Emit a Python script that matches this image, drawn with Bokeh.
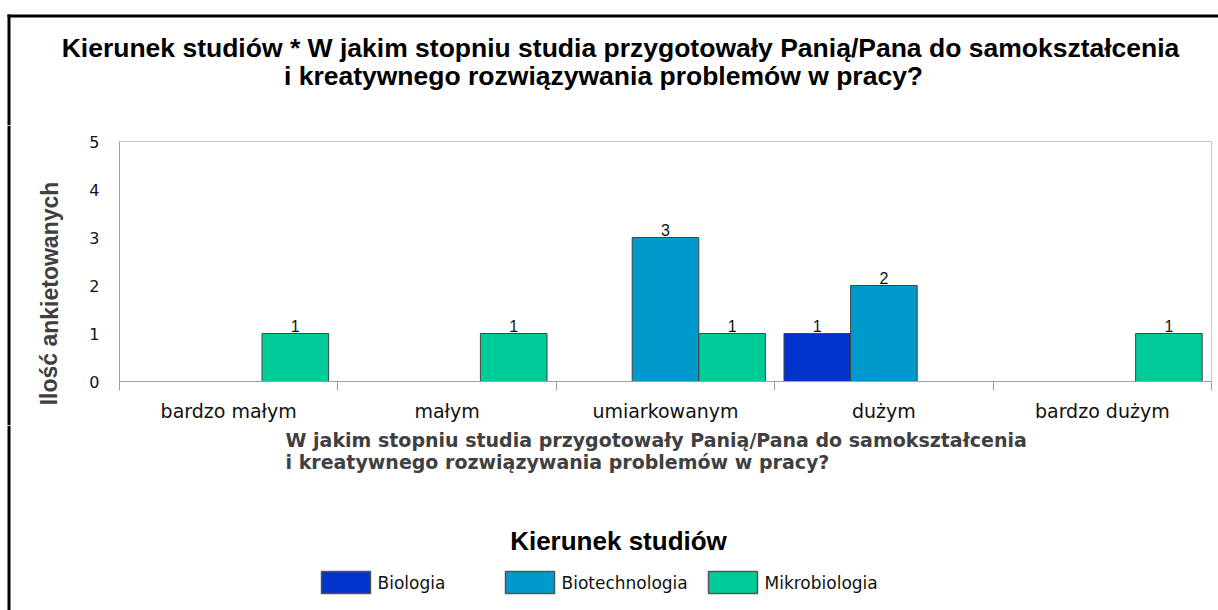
from bokeh.plotting import figure
from bokeh.layouts import column, row
from bokeh.models import ColumnDataSource, Range1d, LinearAxis, FixedTicker
from bokeh.core.properties import value
from bokeh.embed import file_html
from bokeh.resources import INLINE

# ---- data ----
categories = ["bardzo małym", "małym", "umiarkowanym", "dużym", "bardzo dużym"]
series_names = ["Biologia", "Biotechnologia", "Mikrobiologia"]
biologia = [0, 0, 0, 1, 0]
biotechnologia = [0, 0, 3, 2, 0]
mikrobiologia = [1, 1, 1, 0, 1]
y_ticks = [0, 1, 2, 3, 4, 5]

title_lines = ["Kierunek studiów * W jakim stopniu studia przygotowały Panią/Pana do samokształcenia",
               "i kreatywnego rozwiązywania problemów w pracy?"]
x_title_lines = ["W jakim stopniu studia przygotowały Panią/Pana do samokształcenia",
                 "i kreatywnego rozwiązywania problemów w pracy?"]
y_title = "Ilość ankietowanych"
legend_title = "Kierunek studiów"

colors = ["#0033CC", "#0099CC", "#00CC99"]
series_values = [biologia, biotechnologia, mikrobiologia]

# ---- page geometry (px) ----
PW, PH = 1218, 610
TOP_END = 125              # end of title strip
MAIN_END = 425             # end of main chart
LEFT_END = 86              # end of y-title strip
FL, FR, FT, FB = 118, 1211, 141, 381   # plot frame on page
BL0, BL1 = 7, 10           # black border, left edge
BT0, BT1 = 14, 17          # black border, top edge


def no_align(f):
    try:
        f.frame_align = False
    except Exception:
        pass


def canvas_fig(x0, x1, y0, y1):
    """Figure whose frame fills its canvas; data coords == page px (y negated)."""
    f = figure(width=x1 - x0, height=y1 - y0, x_range=Range1d(x0, x1),
               y_range=Range1d(-y1, -y0), x_axis_type=None, y_axis_type=None,
               output_backend="svg", toolbar_location=None, title=None, min_border=0)
    f.outline_line_color = None
    f.background_fill_color = "white"
    f.border_fill_color = "white"
    no_align(f)
    # black chart border (left edge, and top edge where present)
    f.quad(left=[BL0], right=[BL1], top=[-max(y0, BT0)], bottom=[-y1],
           fill_color="black", line_color=None)
    if y0 < BT1:
        f.quad(left=[BL0], right=[x1], top=[-BT0], bottom=[-BT1],
               fill_color="black", line_color=None)
    return f


# ---- title strip ----
top = canvas_fig(0, PW, 0, TOP_END)
top.text(x=[620, 603], y=[-47, -75], text=title_lines, text_align="center",
         text_baseline="middle", text_font=value("Liberation Sans"),
         text_font_style="bold", text_font_size="26.5px", text_color="black")

# ---- y title strip ----
left = canvas_fig(0, LEFT_END, TOP_END, MAIN_END)
left.text(x=[49], y=[-293], text=[y_title], angle=1.5707963, text_align="center",
          text_baseline="middle", text_font=value("Liberation Sans"),
          text_font_style="bold", text_font_size="23px", text_color="#404040")

# ---- main chart ----
ncat = len(categories)
mw, mh = PW - LEFT_END, MAIN_END - TOP_END
p = figure(width=mw, height=mh, x_range=Range1d(0, ncat), y_range=Range1d(0, 5),
           x_axis_type=None, y_axis_type=None, output_backend="svg",
           toolbar_location=None, title=None,
           min_border_left=FL - LEFT_END, min_border_right=PW - FR,
           min_border_top=FT - TOP_END, min_border_bottom=MAIN_END - FB)
no_align(p)
p.background_fill_color = "white"
p.border_fill_color = "white"
p.outline_line_color = "#c8c8c8"
p.outline_line_width = 1

xaxis = LinearAxis(ticker=FixedTicker(ticks=[i + 0.5 for i in range(ncat)],
                                      minor_ticks=list(range(ncat + 1))),
                   major_label_overrides={i + 0.5: c for i, c in enumerate(categories)})
xaxis.axis_line_color = "#a0a0a0"
xaxis.major_tick_line_color = None
xaxis.major_tick_out = 0
xaxis.major_tick_in = 0
xaxis.minor_tick_line_color = "#a0a0a0"
xaxis.minor_tick_out = 9
xaxis.minor_tick_in = 0
xaxis.major_label_text_font = "DejaVu Sans"
xaxis.major_label_text_font_size = "19px"
xaxis.major_label_text_color = "#111111"
xaxis.major_label_standoff = 9
p.add_layout(xaxis, "below")

yaxis = LinearAxis(ticker=FixedTicker(ticks=y_ticks))
yaxis.axis_line_color = "#a0a0a0"
yaxis.major_tick_line_color = None
yaxis.major_tick_out = 0
yaxis.major_tick_in = 0
yaxis.minor_tick_line_color = None
yaxis.major_label_text_font = "DejaVu Sans"
yaxis.major_label_text_font_size = "16px"
yaxis.major_label_text_color = "#111111"
yaxis.major_label_standoff = 20
p.add_layout(yaxis, "left")

p.xgrid.visible = False
p.ygrid.grid_line_color = "#e6e6e6"
p.ygrid.ticker = FixedTicker(ticks=y_ticks)

bw = 0.305
offsets = [-bw, 0.0, bw]
for name, vals, col, off in zip(series_names, series_values, colors, offsets):
    xs = [i + 0.5 + off for i, v in enumerate(vals) if v > 0]
    vs = [v for v in vals if v > 0]
    src = ColumnDataSource(dict(x=xs, val=vs, lab=[str(v) for v in vs]))
    p.vbar(x="x", top="val", bottom=0, width=bw, source=src,
           fill_color=col, line_color="#444444", line_width=1)
    p.text(x="x", y="val", text="lab", source=src, text_align="center",
           text_baseline="bottom", y_offset=-2, text_font=value("Liberation Sans"),
           text_font_size="16px", text_color="#111111")

# ---- bottom strip: x title and legend ----
bot = canvas_fig(0, PW, MAIN_END, PH)
bot.text(x=[285, 285], y=[-439, -461], text=x_title_lines, text_align="left",
         text_baseline="middle", text_font=value("DejaVu Sans"),
         text_font_style="bold", text_font_size="19px", text_color="#404040")
bot.text(x=[618], y=[-540], text=[legend_title], text_align="center",
         text_baseline="middle", text_font=value("Liberation Sans"),
         text_font_style="bold", text_font_size="26px", text_color="black")

sw_left = [321, 505, 708]
sw_w = 49
bot.quad(left=sw_left, right=[x + sw_w for x in sw_left], top=[-571] * 3, bottom=[-593] * 3,
         fill_color=colors, line_color="#555555", line_width=1.5)
bot.text(x=[x + sw_w + 7 for x in sw_left], y=[-582] * 3, text=series_names,
         text_align="left", text_baseline="middle", text_font=value("DejaVu Sans"),
         text_font_size="17px", text_color="#111111")

layout = column(top, row(left, p), bot)
open("out.html", "w").write(file_html(layout, INLINE))
